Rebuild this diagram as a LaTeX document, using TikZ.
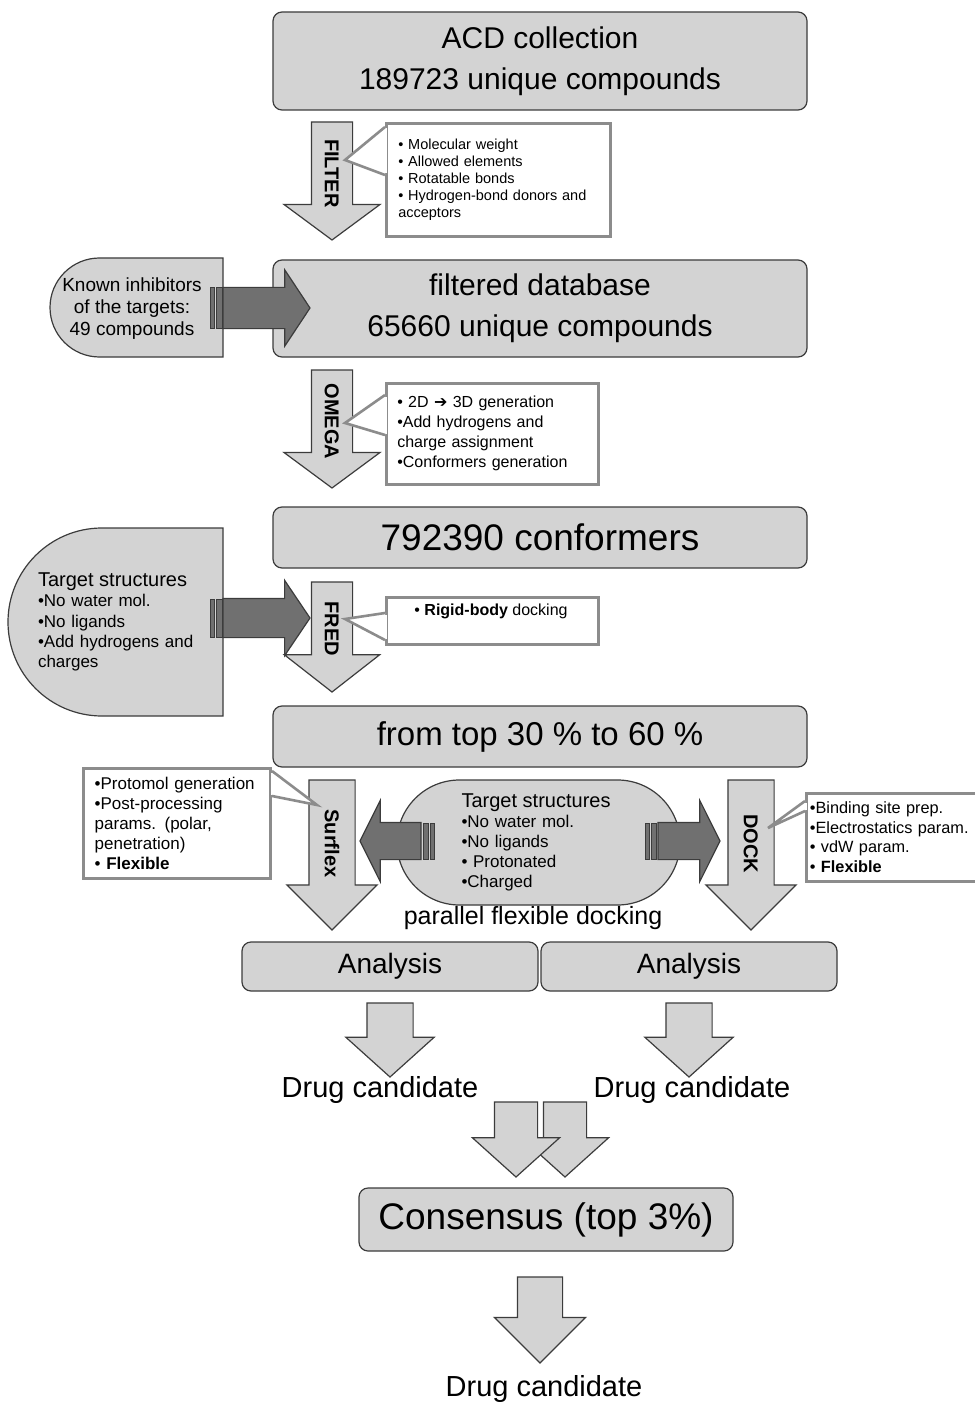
\documentclass[tikz,border=0pt]{standalone}
\usepackage{fontspec}
\usepackage{graphicx}
\setmainfont{Liberation Sans}
\newfontfamily\symfont{DejaVu Sans}
\usetikzlibrary{shapes.arrows,shapes.misc,calc}

\definecolor{boxfill}{RGB}{211,211,211}
\definecolor{boxline}{RGB}{60,60,60}
\definecolor{darkfill}{RGB}{112,112,112}
\definecolor{noteline}{RGB}{140,140,140}

\newcommand{\bul}{•}
% pointer of a note: base start, tip, base end
\newcommand{\notepointer}[3]{%
  \fill[white] ($(#1)+(-1.5,1.5)$) rectangle ($(#3)+(1.5,-1.5)$);
  \fill[white] (#1) -- (#2) -- (#3) -- cycle;
  \draw[pointer] (#1) -- (#2) -- (#3);
}

\begin{document}
\begin{tikzpicture}[
    x=1pt, y=-1pt,
    stage/.style={draw=boxline, fill=boxfill, line width=1.2pt, rounded corners=9pt, align=center, inner sep=0pt, minimum width=534pt},
    target/.style={rounded rectangle, draw=boxline, fill=boxfill, line width=1.2pt, inner sep=0pt},
    note/.style={draw=noteline, fill=white, line width=2.6pt, align=left, inner sep=0pt, anchor=north west},
    pointer/.style={draw=noteline, line width=2.6pt, line join=miter},
    flow/.style={single arrow, draw=boxline, fill=boxfill, line width=1.2pt, outer sep=0pt, inner xsep=4pt, text height=0pt, text depth=0pt, rotate=-90, anchor=tip},
    tool/.style={flow, font=\bfseries\fontsize{20}{20}\selectfont, text height=14.3pt},
    feed/.style={single arrow, draw=boxline, fill=darkfill, line width=1.2pt, outer sep=0pt, inner xsep=0pt, text height=0pt, text depth=0pt, anchor=tip},
    stripe/.style={draw=boxline, fill=darkfill, line width=1pt},
    caption/.style={font=\fontsize{29}{29}\selectfont, inner sep=0pt}
]
\path[use as bounding box, fill=white] (0,0) rectangle (974,1404);

% main stages
\node[stage, minimum height=98pt, font=\fontsize{30}{41}\selectfont] (acd) at (540,61) {ACD collection\\189723 unique compounds};
\node[stage, minimum height=97pt, font=\fontsize{30}{41}\selectfont] (filtered) at (540,308.5) {filtered database\\65660 unique compounds};
\node[stage, minimum height=61pt, font=\fontsize{37}{37}\selectfont] (conf) at (540,537.5) {792390 conformers};
\node[stage, minimum height=61pt, font=\fontsize{33}{33}\selectfont] (toppct) at (540,736.5) {from top 30 \% to 60 \%};
\node[stage, minimum width=296pt, minimum height=49pt, font=\fontsize{28}{28}\selectfont] (anaL) at (390,966.5) {Analysis};
\node[stage, minimum width=296pt, minimum height=49pt, font=\fontsize{28}{28}\selectfont] (anaR) at (689,966.5) {Analysis};
\node[stage, minimum width=374pt, minimum height=63pt, font=\fontsize{37}{37}\selectfont] (consensus) at (546,1219.5) {Consensus (top 3\%)};

% inputs from the side
\node[target, rounded rectangle east arc=none, minimum width=173pt, minimum height=99pt] (inhib) at (136.5,307.5) {};
\node[align=center, inner sep=0pt, font=\fontsize{19}{22}\selectfont] (inhibText) at (132,309) {Known inhibitors\\of the targets:\\49 compounds};
\node[target, rounded rectangle east arc=none, minimum width=215pt, minimum height=188pt] (targetL) at (115.5,622) {};
\node[text width=160pt, align=left, inner sep=0pt, font=\fontsize{17}{20.3}\selectfont] (targetLText) at (118,622) {{\fontsize{20}{20.3}\selectfont Target structures}\\\bul No water mol.\\\bul No ligands\\\bul Add hydrogens and\\charges};
\node[target, minimum width=283pt, minimum height=125pt, text width=154pt, align=left, font=\fontsize{17}{20}\selectfont] (targetM) at (538.5,842.5) {{\fontsize{20}{20}\selectfont Target structures}\\\bul No water mol.\\\bul No ligands\\\bul{} Protonated\\\bul Charged};
\node[font=\fontsize{25}{25}\selectfont, inner sep=0pt] (parallel) at (533,918) {parallel flexible docking};

% dark feeding arrows
\node[feed, minimum height=87pt, inner ysep=20pt, single arrow head extend=17.5pt, single arrow tip angle=113] (inhibArr) at (310,308) {};
\draw[stripe] (210,288) rectangle (214,328);
\draw[stripe] (216,288) rectangle (222,328);
\node[feed, minimum height=87pt, inner ysep=19pt, single arrow head extend=18pt, single arrow tip angle=112] (targetArr) at (310,618) {};
\draw[stripe] (210,599) rectangle (214,637);
\draw[stripe] (216,599) rectangle (222,637);
\node[feed, rotate=180, minimum height=61pt, inner ysep=18pt, single arrow head extend=22pt, single arrow tip angle=127] (leftArr) at (360,841) {};
\draw[stripe] (423,823) rectangle (428,859);
\draw[stripe] (430,823) rectangle (434,859);
\node[feed, minimum height=62pt, inner ysep=18pt, single arrow head extend=22pt, single arrow tip angle=127] (rightArr) at (720,841) {};
\draw[stripe] (645,823) rectangle (649,859);
\draw[stripe] (651,823) rectangle (656,859);

% program arrows
\node[tool, minimum height=118pt, inner ysep=12.85pt, single arrow head extend=27.5pt, single arrow tip angle=107] (filterArr) at (332,240) {FILTER};
\node[tool, minimum height=118pt, inner ysep=12.85pt, single arrow head extend=27.5pt, single arrow tip angle=107] (omegaArr) at (332,488) {OMEGA};
\node[tool, minimum height=110pt, inner ysep=12.85pt, single arrow head extend=27pt, single arrow tip angle=104] (fredArr) at (332,692) {FRED};
\node[tool, minimum height=150pt, inner ysep=15.35pt, single arrow head extend=22pt, single arrow tip angle=90] (surflexArr) at (332,930) {Surflex};
\node[tool, minimum height=150pt, inner ysep=15.35pt, single arrow head extend=22pt, single arrow tip angle=90] (dockArr) at (751,930) {DOCK};

% result arrows
\node[flow, minimum height=74pt, inner ysep=22.5pt, single arrow head extend=21pt, single arrow tip angle=96] (dropL) at (390,1077) {};
\node[flow, minimum height=74pt, inner ysep=22.5pt, single arrow head extend=21pt, single arrow tip angle=96] (dropR) at (689,1077) {};
\node[caption] (drugL) at (380,1090) {Drug candidate};
\node[caption] (drugR) at (692,1090) {Drug candidate};
\node[flow, minimum height=75pt, inner ysep=21pt, single arrow head extend=22pt, single arrow tip angle=96] (mergeR) at (565,1177) {};
\node[flow, minimum height=75pt, inner ysep=21pt, single arrow head extend=22pt, single arrow tip angle=96] (mergeL) at (516,1177) {};
\node[flow, minimum height=86pt, inner ysep=22pt, single arrow head extend=23pt, single arrow tip angle=90] (finalArr) at (540,1363) {};
\node[caption] (drugFinal) at (544,1389) {Drug candidate};

% notes
\node[note, minimum width=224pt, minimum height=113pt, text width=200pt, font=\fontsize{14.5}{17}\selectfont] (filterNote) at (385,122) {\bul{} Molecular weight\\\bul{} Allowed elements\\\bul{} Rotatable bonds\\\bul{} Hydrogen-bond donors and\\acceptors};
\coordinate (filterTip) at (345,160);
\notepointer{$(filterNote.north west)+(0,5)$}{filterTip}{$(filterNote.north west)+(0,53)$}

\node[note, minimum width=212pt, minimum height=101pt, text width=190pt, font=\fontsize{16}{20}\selectfont] (omegaNote) at (385,382) {\bul{} 2D {\symfont\fontsize{16}{16}\selectfont ➔} 3D generation\\\bul Add hydrogens and\\charge assignment\\\bul Conformers generation};
\coordinate (omegaTip) at (345,423);
\notepointer{$(omegaNote.north west)+(0,13)$}{omegaTip}{$(omegaNote.north west)+(0,53)$}

\node[note, minimum width=212pt, minimum height=47pt] (fredNote) at (385,596) {};
\node[font=\fontsize{16}{16}\selectfont, inner sep=0pt] (fredText) at (491,611) {\bul{} \textbf{Rigid-body} docking};
\coordinate (fredTip) at (345,619);
\notepointer{$(fredNote.north west)+(0,17)$}{fredTip}{$(fredNote.north west)+(0,44)$}

\node[note, anchor=north east, minimum width=187pt, minimum height=110pt, text width=165pt, font=\fontsize{17}{20}\selectfont] (surflexNote) at (272,767) {\bul Protomol generation\\\bul Post-processing\\params. (polar,\\penetration)\\\bul{} \textbf{Flexible}};
\coordinate (surflexTip) at (317,805);
\notepointer{$(surflexNote.north east)+(0,4)$}{surflexTip}{$(surflexNote.north east)+(0,29)$}

\node[note, minimum height=88pt, inner xsep=3.5pt, text width=176pt, font=\fontsize{16.3}{19.5}\selectfont] (dockNote) at (805,792) {\bul Binding site prep.\\\bul Electrostatics param.\\\bul{} vdW param.\\\bul{} \textbf{Flexible}};
\coordinate (dockTip) at (768,828);
\notepointer{$(dockNote.north west)+(0,9)$}{dockTip}{$(dockNote.north west)+(0,19)$}
\end{tikzpicture}
\end{document}
